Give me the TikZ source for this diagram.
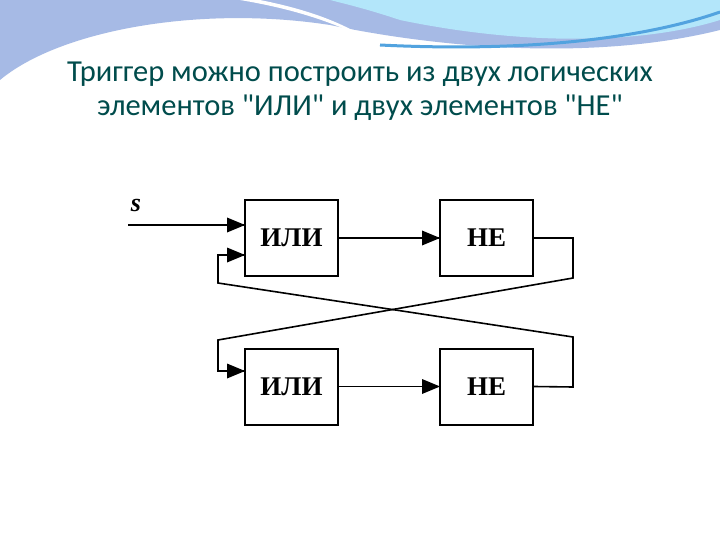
\documentclass[tikz,border=0pt]{standalone}
\usepackage{fontspec}
\setmainfont{Carlito}
\newfontfamily\serifb{Liberation Serif}
\tikzset{
  blk/.style={draw,line width=2pt,minimum width=93pt,minimum height=76pt,inner sep=0pt,font=\serifb\bfseries\fontsize{27}{27}\selectfont},
  wire/.style={line width=1.6pt},
  tipr/.pic={\fill[black] (1,0) -- (-17,7.5) -- (-17,-7.5) -- cycle;}}
\begin{document}
\begin{tikzpicture}[x=1pt,y=1pt]
\useasboundingbox (0,0) rectangle (720,-540);
\fill[white] (0,0) rectangle (720,-540);
% waves
\fill[cyan!45!blue!35] (0,0) -- (720,0) -- (720,-30) .. controls (600,-60) and (450,-50) .. (330,-25) .. controls (200,-5) and (60,-30) .. (0,-80) -- cycle;
\fill[cyan!30] (330,0) -- (720,0) -- (720,-20) .. controls (640,-45) and (520,-45) .. (400,-20) .. controls (370,-10) and (350,-5) .. (330,0) -- cycle;
\fill[white] (240,0) .. controls (300,-10) and (340,-25) .. (372,-42) .. controls (340,-20) and (300,-8) .. (260,0) -- cycle;
\draw[cyan!70!blue!70,line width=3pt] (380,-45) .. controls (520,-52) and (640,-40) .. (720,-12);
\node[text=teal!60!black,font=\fontsize{30.5}{34}\selectfont,align=center] (title) at (360,-91)
 {Триггер можно построить из двух логических\\элементов \textquotedbl ИЛИ\textquotedbl{} и двух элементов \textquotedbl НЕ\textquotedbl};
\node[blk] (or1) at (291.5,-238) {ИЛИ};
\node[blk] (not1) at (486.5,-238) {НЕ};
\node[blk] (or2) at (291.5,-386.5) {ИЛИ};
\node[blk] (not2) at (486.5,-386.5) {НЕ};
\node[font=\serifb\bfseries\itshape\fontsize{26}{26}\selectfont] (s) at (136,-206) {s};
\coordinate (sin) at (128,-225);
\coordinate (in1) at (or1.west |- 0,-255);
\coordinate (in2) at (or2.west |- 0,-371);
\draw[wire] (sin) -- (sin -| or1.west) pic {tipr};
\draw[wire] (or1.east) -- (not1.west) pic {tipr};
\draw[wire] (or2.east) -- (not2.west) pic {tipr};
\draw[wire] (not2.east) -- (573,-387) -- (573,-337) -- (218,-283) -- (218,-255) -- (in1) pic {tipr};
\draw[wire] (not1.east) -- (573,-238) -- (573,-278) -- (218,-340) -- (218,-371) -- (in2) pic {tipr};
\end{tikzpicture}
\end{document}
